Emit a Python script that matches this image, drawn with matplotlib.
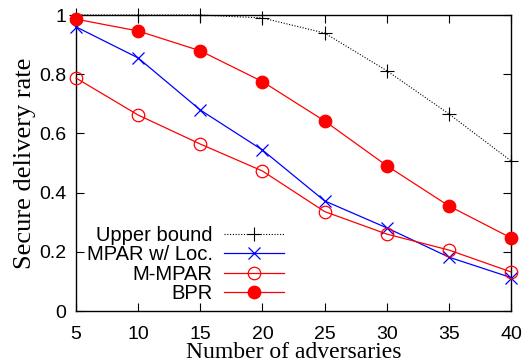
import matplotlib
matplotlib.use("Agg")
import matplotlib.pyplot as plt

adversaries = [5, 10, 15, 20, 25, 30, 35, 40]
upper_bound = [1.0, 1.0, 1.0, 0.99, 0.939, 0.812, 0.666, 0.507]
mpar_loc = [0.96, 0.855, 0.679, 0.544, 0.372, 0.281, 0.182, 0.113]
m_mpar = [0.787, 0.662, 0.564, 0.473, 0.336, 0.26, 0.206, 0.132]
bpr = [0.986, 0.946, 0.879, 0.775, 0.642, 0.491, 0.355, 0.247]

plt.rcParams["font.family"] = "Liberation Sans"

fig = plt.figure(figsize=(5.24, 3.62), dpi=100)
ax = fig.add_axes([76 / 524, 51 / 362, 435 / 524, 296 / 362])

ax.plot(adversaries, upper_bound, color="black", lw=0.8, ls=(0, (1, 1.5)),
        marker="+", ms=10, mew=0.8, label="Upper bound", clip_on=False, zorder=3)
ax.plot(adversaries, mpar_loc, color="blue", lw=0.9,
        marker="x", ms=9, mew=0.9, label="MPAR w/ Loc.", clip_on=False, zorder=3)
ax.plot(adversaries, m_mpar, color="red", lw=0.9,
        marker="o", ms=9, mfc="none", mew=0.9, label="M-MPAR", clip_on=False, zorder=3)
ax.plot(adversaries, bpr, color="red", lw=0.9,
        marker="o", ms=9, mew=0.9, label="BPR", clip_on=False, zorder=3)

ax.set_xlim(5, 40)
ax.set_ylim(0, 1)
ax.set_xticks(adversaries)
ax.set_yticks([0, 0.2, 0.4, 0.6, 0.8, 1])
ax.set_yticklabels(["0", "0.2", "0.4", "0.6", "0.8", "1"])
ax.tick_params(direction="in", length=6, width=0.8, top=True, right=True,
               labelsize=14)
ax.tick_params(axis="x", pad=11)
ax.tick_params(axis="y", pad=7)
for s in ax.spines.values():
    s.set_linewidth(1.0)

ax.set_xlabel("Number of adversaries", family="Liberation Serif", fontsize=17, labelpad=-1)
ax.set_ylabel("Secure delivery rate", family="Liberation Serif", fontsize=19, labelpad=2)

leg = ax.legend(loc="lower right", bbox_to_anchor=(284 / 524, 59 / 362),
                bbox_transform=fig.transFigure, frameon=False, markerfirst=False,
                fontsize=14.5, handlelength=3.0, handletextpad=0.55,
                labelspacing=0.02, borderpad=0, borderaxespad=0)

fig.savefig("out.png", dpi=100)
